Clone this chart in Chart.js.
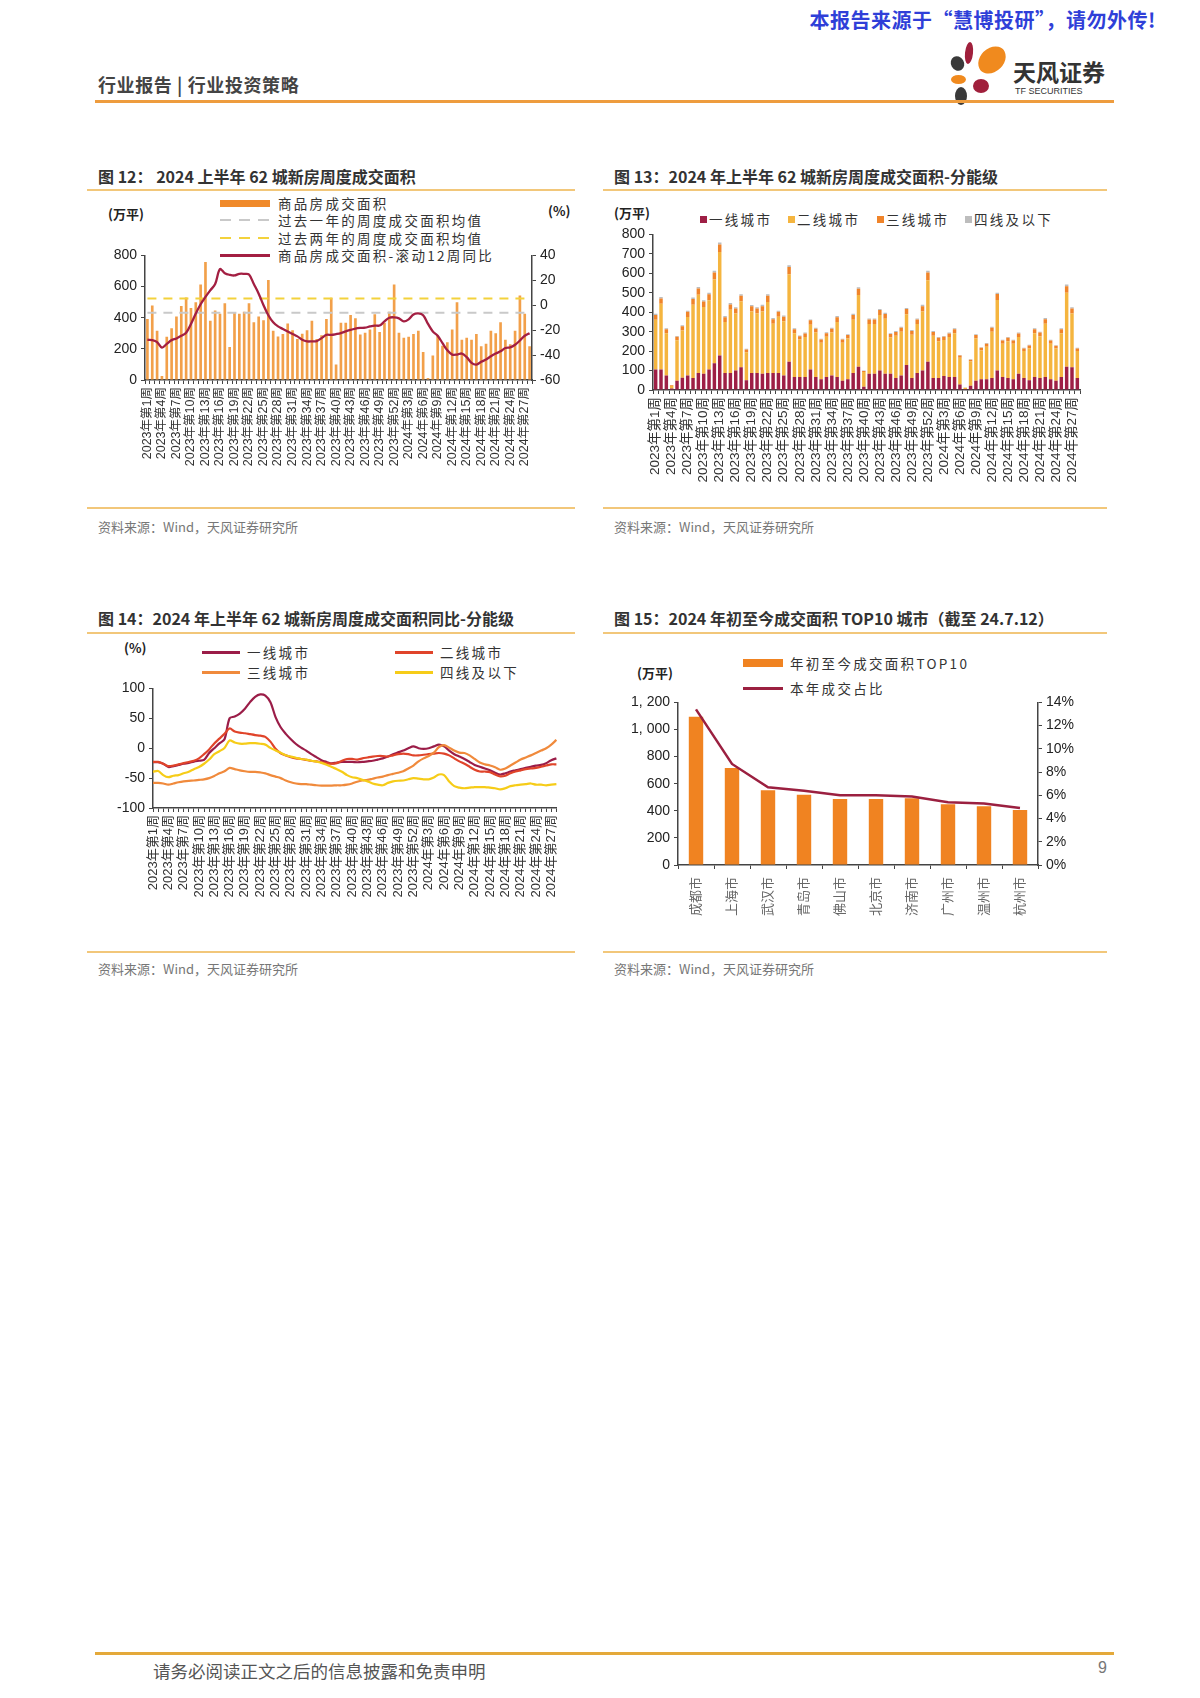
<!DOCTYPE html>
<html>
<head>
<meta charset="utf-8">
<script src="https://cdn.jsdelivr.net/npm/chart.js@4.4.1/dist/chart.umd.min.js"></script>
<style>
  body { margin: 0; background: #fff; font-family: "Noto Sans CJK SC", "Liberation Sans", sans-serif; }
  #page { position: relative; width: 1200px; height: 1698px; overflow: hidden; background: #fff; }
  .abs { position: absolute; white-space: nowrap; }
  .title { font-size: 16px; font-weight: 700; color: #333; }
  .rule { position: absolute; height: 2px; background: #F2C77A; }
  .src { font-size: 13px; color: #777; }
  .unit { font-size: 13px; font-weight: 700; color: #222; }
  .box { position: absolute; }
  .lg { position: absolute; font-size: 13.5px; letter-spacing: 2.3px; color: #333; line-height: 16px; white-space: nowrap; }
  .sw { position: absolute; }
</style>
</head>
<body>
<div id="page">
  <!-- page header -->
  <div class="abs" style="right:44px;top:5px;font-size:20px;font-weight:700;color:#2F3FD8;letter-spacing:0.5px;">本报告来源于“慧博投研”，请勿外传!</div>
  <div class="abs" style="left:98px;top:71px;font-size:18px;font-weight:700;color:#444;letter-spacing:0.6px;">行业报告 | 行业投资策略</div>
  <div class="abs" style="left:965px;top:42px;width:8px;height:22px;border-radius:50%;background:#A0203C;transform:rotate(6deg);"></div>
  <div class="abs" style="left:951px;top:56px;width:13px;height:15px;border-radius:50%;background:#3A3A3A;transform:rotate(-30deg);"></div>
  <div class="abs" style="left:977px;top:48px;width:30px;height:24px;border-radius:60% 40% 60% 40%;background:#F08A1E;transform:rotate(-25deg);"></div>
  <div class="abs" style="left:951px;top:75px;width:15px;height:9px;border-radius:50%;background:#F08A1E;"></div>
  <div class="abs" style="left:973px;top:79px;width:16px;height:14px;border-radius:50%;background:#A0203C;"></div>
  <div class="abs" style="left:955px;top:87px;width:12px;height:18px;border-radius:50%;background:#3A3A3A;"></div>
  <div class="abs" style="left:1013px;top:54px;font-size:23px;font-weight:700;color:#333;">天风证券</div>
  <div class="abs" style="left:1015px;top:86px;font-size:9px;color:#333;font-family:'Liberation Sans';">TF SECURITIES</div>
  <div class="abs" style="left:95px;top:100px;width:1019px;height:3px;background:#EE9C3E;"></div>

  <!-- figure titles and rules -->
  <div class="abs title" style="left:98px;top:164px;">图 12： 2024 上半年 62 城新房周度成交面积</div>
  <div class="abs title" style="left:614px;top:164px;">图 13：2024 年上半年 62 城新房周度成交面积-分能级</div>
  <div class="rule" style="left:87px;top:189px;width:488px;"></div>
  <div class="rule" style="left:603px;top:189px;width:504px;"></div>
  <div class="rule" style="left:87px;top:507px;width:488px;"></div>
  <div class="rule" style="left:603px;top:507px;width:504px;"></div>
  <div class="abs src" style="left:98px;top:517px;">资料来源：Wind，天风证券研究所</div>
  <div class="abs src" style="left:614px;top:517px;">资料来源：Wind，天风证券研究所</div>

  <div class="abs title" style="left:98px;top:606px;">图 14：2024 年上半年 62 城新房周度成交面积同比-分能级</div>
  <div class="abs title" style="left:614px;top:606px;">图 15：2024 年初至今成交面积 TOP10 城市（截至 24.7.12）</div>
  <div class="rule" style="left:87px;top:632px;width:488px;"></div>
  <div class="rule" style="left:603px;top:632px;width:504px;"></div>
  <div class="rule" style="left:87px;top:951px;width:488px;"></div>
  <div class="rule" style="left:603px;top:951px;width:504px;"></div>
  <div class="abs src" style="left:98px;top:959px;">资料来源：Wind，天风证券研究所</div>
  <div class="abs src" style="left:614px;top:959px;">资料来源：Wind，天风证券研究所</div>

  <!-- chart 12 -->
  <div class="abs unit" style="left:108px;top:204px;">(万平)</div>
  <div class="abs unit" style="left:548px;top:201px;">(%)</div>
  <div class="sw" style="left:220px;top:200px;width:50px;height:7px;background:#F08A2A;"></div>
  <div class="lg" style="left:278px;top:195px;">商品房成交面积</div>
  <div class="sw" style="left:220px;top:219px;width:50px;height:2px;background:repeating-linear-gradient(90deg,#C9C9C9 0 11px,transparent 11px 19px);"></div>
  <div class="lg" style="left:278px;top:212px;">过去一年的周度成交面积均值</div>
  <div class="sw" style="left:220px;top:237px;width:50px;height:2px;background:repeating-linear-gradient(90deg,#F3D23C 0 11px,transparent 11px 19px);"></div>
  <div class="lg" style="left:278px;top:230px;">过去两年的周度成交面积均值</div>
  <div class="sw" style="left:220px;top:254px;width:50px;height:2.5px;background:#A31F42;"></div>
  <div class="lg" style="left:278px;top:247px;">商品房成交面积-滚动12周同比</div>
  <div class="box" style="left:87px;top:243px;width:488px;height:236px;"><canvas id="c12"></canvas></div>

  <!-- chart 13 -->
  <div class="abs unit" style="left:614px;top:203px;">(万平)</div>
  <div class="sw" style="left:700px;top:216px;width:7px;height:7px;background:#9E1F45;"></div>
  <div class="lg" style="left:709px;top:211px;">一线城市</div>
  <div class="sw" style="left:788px;top:216px;width:7px;height:7px;background:#F5B53F;"></div>
  <div class="lg" style="left:797px;top:211px;">二线城市</div>
  <div class="sw" style="left:877px;top:216px;width:7px;height:7px;background:#F0842A;"></div>
  <div class="lg" style="left:886px;top:211px;">三线城市</div>
  <div class="sw" style="left:965px;top:216px;width:7px;height:7px;background:#BDBDBD;"></div>
  <div class="lg" style="left:974px;top:211px;">四线及以下</div>
  <div class="box" style="left:600px;top:222px;width:500px;height:270px;"><canvas id="c13"></canvas></div>

  <!-- chart 14 -->
  <div class="abs unit" style="left:124px;top:638px;">(%)</div>
  <div class="sw" style="left:202px;top:651px;width:38px;height:2.5px;background:#9B1D48;"></div>
  <div class="lg" style="left:247px;top:644px;">一线城市</div>
  <div class="sw" style="left:395px;top:651px;width:38px;height:2.5px;background:#E0442A;"></div>
  <div class="lg" style="left:440px;top:644px;">二线城市</div>
  <div class="sw" style="left:202px;top:671px;width:38px;height:2.5px;background:#F08A3C;"></div>
  <div class="lg" style="left:247px;top:664px;">三线城市</div>
  <div class="sw" style="left:395px;top:671px;width:38px;height:2.5px;background:#F6CC18;"></div>
  <div class="lg" style="left:440px;top:664px;">四线及以下</div>
  <div class="box" style="left:87px;top:676px;width:488px;height:240px;"><canvas id="c14"></canvas></div>

  <!-- chart 15 -->
  <div class="abs unit" style="left:637px;top:663px;">(万平)</div>
  <div class="sw" style="left:743px;top:659px;width:40px;height:8px;background:#F08321;"></div>
  <div class="lg" style="left:790px;top:655px;">年初至今成交面积TOP10</div>
  <div class="sw" style="left:743px;top:687px;width:40px;height:2.5px;background:#9B2040;"></div>
  <div class="lg" style="left:790px;top:680px;">本年成交占比</div>
  <div class="box" style="left:603px;top:690px;width:497px;height:235px;"><canvas id="c15"></canvas></div>

  <!-- footer -->
  <div class="abs" style="left:95px;top:1652px;width:1019px;height:3px;background:#E4A93A;"></div>
  <div class="abs" style="left:153px;top:1658px;font-size:17.5px;color:#555;">请务必阅读正文之后的信息披露和免责申明</div>
  <div class="abs" style="left:1098px;top:1659px;font-size:16px;color:#777;font-family:'Liberation Sans';">9</div>
</div>

<script>
// 周度类目：2023年第1周 ~ 2024年第28周
const weekLabels = [];
for (let w = 1; w <= 52; w++) weekLabels.push('2023年第' + w + '周');
for (let w = 1; w <= 28; w++) weekLabels.push('2024年第' + w + '周');

// 图12：商品房成交面积（万平）
const weeklyArea = [392,478,317,25,278,333,408,475,530,462, 500,613,758,380,447,425,492,212,437,425,
  438,492,370,408,383,642,317,280,295,363, 320,263,297,320,380,263,287,392,528,100,
  367,367,417,397,292,303,325,422,308,367, 438,613,303,272,278,295,317,180,13,158,
  287,220,242,325,500,258,272,258,295,217, 233,317,300,370,258,230,317,542,425,217];
const avgOneYear = 432;
const avgTwoYear = 523;
// 滚动12周同比（%）
const rolling12Yoy = [-27.7,-28,-29.6,-34,-31,-28,-26.7,-24.5,-22,-15, -6.6,0.8,6.7,12,17,29,25.7,24.4,23.9,25.2,
  25.2,24.7,17,9.3,0,-8,-13.7,-17,-19,-21, -23,-25,-27.7,-29,-29,-28.8,-26.4,-23.8,-23.8,-23.2,
  -22.4,-21,-19.8,-18.7,-18.2,-18,-17,-16.3,-16.3,-13, -10,-9.7,-10.5,-13,-11.3,-7.4,-6.6,-8,-15,-21,
  -24.5,-30.4,-36.2,-39.6,-39.6,-38.8,-41.7,-46.2,-47.6,-45.4, -43.6,-41,-38.8,-37,-34.3,-33.8,-31.7,-28.3,-24.5,-22.4];

// 图13：分能级成交面积（万平）
const tier1Area = [105,105,75,8,47,63,75,62,88,83, 105,138,178,87,88,100,117,50,88,88,
  83,88,88,88,75,145,67,67,67,105, 67,55,67,75,67,47,55,88,120,17,
  83,83,100,83,83,62,75,128,62,88, 100,145,62,62,72,67,67,28,5,22,
  47,55,55,62,100,67,62,55,83,62, 50,67,62,67,55,47,67,120,117,62];
const tier2Area = [256,338,217,13,209,243,300,376,402,344, 357,430,532,263,324,293,338,144,316,305,
  321,365,253,289,278,450,225,192,205,231, 228,188,207,220,283,196,210,273,368,75,
  256,256,285,283,187,217,225,262,222,251, 304,419,217,189,185,205,225,138,6,124,
  218,148,168,238,363,171,189,183,190,139, 165,225,214,274,183,166,225,380,276,139];
const tier3Area = [25,28,20,3,18,22,27,30,32,28, 30,36,38,24,28,26,30,14,27,26,
  27,31,23,25,24,38,20,17,18,22, 20,16,18,20,24,16,18,25,32,6,
  23,23,26,25,18,19,20,26,19,23, 27,40,19,17,17,18,20,11,1,10,
  18,14,15,20,30,16,17,16,18,13, 14,20,19,23,16,14,20,34,26,13];
const tier4Area = [6,7,5,1,4,5,6,7,8,7, 8,9,10,6,7,6,7,4,6,6,
  7,8,6,6,6,9,5,4,5,5, 5,4,5,5,6,4,4,6,8,2,
  5,5,6,6,4,5,5,6,5,5, 7,9,5,4,4,5,5,3,1,2,
  4,3,4,5,7,4,4,4,4,3, 4,5,5,6,4,3,5,8,6,3];

// 图14：分能级成交面积同比（%）
const tier1Yoy = [-23.5,-23.5,-26,-31.5,-30,-28,-26,-24.5,-22.4,-21, -19.7,-8,0,8,15,50,53,58,66,77,
  86,90,88,77,52,35,24,15,7,1, -4,-10,-15,-20,-23,-25.5,-24,-23,-23,-23,
  -23.5,-23,-22,-21,-19,-17,-14,-10,-7,-4, 0,3,0,-1,0,3,6,3,-4,-10,
  -14,-18,-23,-28,-31,-34,-37,-41,-44,-42, -39,-37,-35,-33,-31,-29,-28,-25,-20,-17];
const tier2Yoy = [-23,-23,-26,-30,-29,-27,-25,-23,-21,-17, -10,-2,8,16,24,33,28,26,25,23.5,
  22,21,19,11,-1,-8.5,-12,-15,-17,-18, -19.5,-21,-22,-23.5,-25,-26,-25,-21,-18,-18,
  -19,-17,-15.5,-14,-13,-13,-14,-12,-10,-9, -10,-12,-12,-11,-10,-9,-8,-9,-12,-17,
  -22,-26,-31,-36,-39,-39,-40,-44,-47,-46, -42,-39,-37,-35,-34,-33,-31,-29,-27,-27];
const tier3Yoy = [-58,-58,-59,-61,-59,-57,-55.5,-54.5,-54,-53, -52,-50,-46.5,-42,-38.5,-33,-35,-37,-38.5,-39.5,
  -39.5,-40.5,-42,-45,-47.5,-50,-54,-57,-59,-60, -60,-61,-62,-62.5,-62.5,-62.5,-62,-62,-61,-59,
  -56,-54,-53,-51,-49,-47.5,-45,-43,-41,-38.5, -34,-29,-22,-17,-13,-7.5,2,5,1,-4,
  -7.5,-8,-12,-18,-24,-27,-29,-32,-36,-34, -29,-24,-19,-15.5,-12,-8,-4,0,6,14];
const tier4Yoy = [-39.5,-38,-45,-48.5,-46,-45,-42,-39.5,-35,-31.5, -26,-19,-10,-5,0.5,13,9.6,7.5,7.5,8.5,
  8.5,7.5,6,0.5,-3.7,-7.5,-11.7,-14,-16,-18, -19,-21,-22.4,-24.5,-27.7,-31.5,-35,-39.5,-45,-48.5,
  -50,-53,-55.5,-59,-61,-62,-58,-55.5,-54.4,-54, -52,-50,-51,-52,-52,-49,-44,-45,-55.5,-63.5,
  -66,-67,-66,-65,-65,-65,-66,-67,-69,-67, -63.5,-62,-61,-60,-59,-61,-61,-62,-61,-60];

// 图15：年初至今成交面积 TOP10 城市
const topCities = ['成都市','上海市','武汉市','青岛市','佛山市','北京市','济南市','广州市','温州市','杭州市'];
const cityArea = [1095,715,552,518,488,488,492,448,433,405];
const cityShare = [13.4,8.7,6.7,6.4,6.0,6.0,5.9,5.4,5.3,4.9];

const tickFamily = '"Liberation Sans", "Noto Sans CJK SC", sans-serif';
const axisColor = '#444';

function weekAxis(h, size) {
  return {
    grid: { drawOnChartArea: false, drawTicks: true, tickLength: 4, color: axisColor },
    border: { color: axisColor, width: 1.5 },
    ticks: {
      autoSkip: false, minRotation: 90, maxRotation: 90, padding: 3, color: '#333',
      font: { family: tickFamily, size: size },
      callback: (v, i) => (i % 3 === 0 ? weekLabels[i] : '')
    },
    afterFit: s => { s.height = h; }
  };
}

function valueAxis(pos, min, max, step, w, fmt) {
  return {
    position: pos, min: min, max: max,
    grid: { drawOnChartArea: false, drawTicks: true, tickLength: 4, color: axisColor },
    border: { color: axisColor, width: 1.5 },
    ticks: { stepSize: step, autoSkip: false, padding: 4, color: '#222',
      font: { family: tickFamily, size: 14 }, callback: fmt },
    afterFit: s => { s.width = w; }
  };
}

const baseOpts = {
  responsive: true,
  maintainAspectRatio: false,
  animation: false,
  plugins: { legend: { display: false }, tooltip: { enabled: false } }
};

// 图12
new Chart(document.getElementById('c12'), {
  type: 'bar',
  data: {
    labels: weekLabels,
    datasets: [
      {
        label: '商品房成交面积', data: weeklyArea, yAxisID: 'y', order: 4,
        backgroundColor: '#F2A04A', barPercentage: 0.55, categoryPercentage: 1
      },
      {
        type: 'line', label: '过去一年的周度成交面积均值', yAxisID: 'y', order: 3,
        data: [{ x: weekLabels[0], y: avgOneYear }, { x: weekLabels[weekLabels.length - 1], y: avgOneYear }],
        borderColor: '#C9C9C9', borderWidth: 2, borderDash: [9, 7], pointRadius: 0
      },
      {
        type: 'line', label: '过去两年的周度成交面积均值', yAxisID: 'y', order: 2,
        data: [{ x: weekLabels[0], y: avgTwoYear }, { x: weekLabels[weekLabels.length - 1], y: avgTwoYear }],
        borderColor: '#F3D23C', borderWidth: 2, borderDash: [9, 7], pointRadius: 0
      },
      {
        type: 'line', label: '商品房成交面积-滚动12周同比', data: rolling12Yoy, yAxisID: 'y1', order: 1,
        borderColor: '#A31F42', borderWidth: 2.3, pointRadius: 0, tension: 0.35
      }
    ]
  },
  options: {
    ...baseOpts,
    layout: { padding: { top: 10, right: 0, left: 0, bottom: 0 } },
    scales: {
      x: weekAxis(99, 12.5),
      y: valueAxis('left', 0, 800, 200, 58),
      y1: valueAxis('right', -60, 40, 20, 43)
    }
  }
});

// 图13
const tierBar = (label, data, color) => ({
  label: label, data: data, backgroundColor: color, barPercentage: 0.65, categoryPercentage: 1
});
new Chart(document.getElementById('c13'), {
  type: 'bar',
  data: {
    labels: weekLabels,
    datasets: [
      tierBar('一线城市', tier1Area, '#9E1F45'),
      tierBar('二线城市', tier2Area, '#F5B53F'),
      tierBar('三线城市', tier3Area, '#F0842A'),
      tierBar('四线及以下', tier4Area, '#BDBDBD')
    ]
  },
  options: {
    ...baseOpts,
    layout: { padding: { top: 7, right: 20, left: 0, bottom: 0 } },
    scales: {
      x: { ...weekAxis(102, 13.5), stacked: true },
      y: { ...valueAxis('left', 0, 800, 100, 53), stacked: true }
    }
  }
});

// 图14
const tierLine = (label, data, color) => ({
  label: label, data: data, borderColor: color, borderWidth: 2.2, pointRadius: 0, tension: 0.3
});
new Chart(document.getElementById('c14'), {
  type: 'line',
  data: {
    labels: weekLabels,
    datasets: [
      tierLine('四线及以下', tier4Yoy, '#F6CC18'),
      tierLine('三线城市', tier3Yoy, '#F08A3C'),
      tierLine('二线城市', tier2Yoy, '#E0442A'),
      tierLine('一线城市', tier1Yoy, '#9B1D48')
    ]
  },
  options: {
    ...baseOpts,
    layout: { padding: { top: 7, right: 8, left: 0, bottom: 0 } },
    scales: {
      x: weekAxis(108, 13),
      y: valueAxis('left', -100, 100, 50, 66)
    }
  }
});

// 图15
new Chart(document.getElementById('c15'), {
  type: 'bar',
  data: {
    labels: topCities,
    datasets: [
      {
        type: 'line', label: '本年成交占比', data: cityShare, yAxisID: 'y1', order: 1,
        borderColor: '#9B2040', borderWidth: 2.5, pointRadius: 0, tension: 0
      },
      {
        label: '年初至今成交面积TOP10', data: cityArea, yAxisID: 'y', order: 2,
        backgroundColor: '#F08321', barPercentage: 0.4, categoryPercentage: 1
      }
    ]
  },
  options: {
    ...baseOpts,
    layout: { padding: { top: 9, right: 0, left: 0, bottom: 0 } },
    scales: {
      x: {
        grid: { drawOnChartArea: false, drawTicks: true, tickLength: 4, color: axisColor },
        border: { color: axisColor, width: 1.5 },
        ticks: { autoSkip: false, minRotation: 90, maxRotation: 90, padding: 8, color: '#666',
          font: { family: tickFamily, size: 13 } },
        afterFit: s => { s.height = 60; }
      },
      y: valueAxis('left', 0, 1200, 200, 75, v => v >= 1000 ? v.toLocaleString('en-US').replace(',', ', ') : v),
      y1: valueAxis('right', 0, 14, 2, 62, v => v + '%')
    }
  }
});
</script>
</body>
</html>
